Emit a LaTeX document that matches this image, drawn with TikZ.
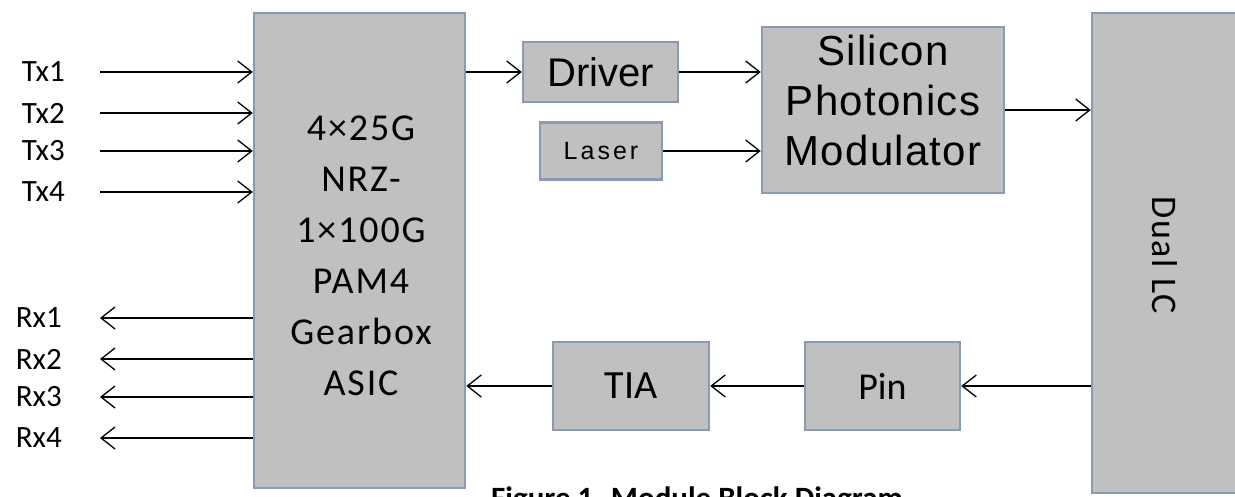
\documentclass[tikz,border=0pt]{standalone}
\usepackage{fontspec}
\setmainfont{Carlito}
\newfontfamily\arialf{Liberation Sans}
\newfontfamily\arialsp[LetterSpace=3]{Liberation Sans}
\newfontfamily\arialwide[LetterSpace=12]{Liberation Sans}
\newfontfamily\calsp[LetterSpace=5]{Carlito}
\newfontfamily\caldual[LetterSpace=5]{Carlito}
\usetikzlibrary{arrows.meta}
\definecolor{boxfill}{RGB}{192,192,192}
\definecolor{boxline}{RGB}{137,154,178}
\begin{document}
\begin{tikzpicture}[x=1pt,y=-1pt,
  blk/.style={draw=boxline, fill=boxfill, line width=2.5pt, inner sep=0pt},
  arr/.style={-{Straight Barb[length=14pt,width=22pt]}, line width=1.3pt},
  lbl/.style={inner sep=0pt, font=\fontsize{31}{33}\selectfont}]
\useasboundingbox (0,0) rectangle (1235,497);
\fill[white] (0,0) rectangle (1235,497);
% blocks
\node[blk, minimum width=211pt, minimum height=475pt] (asic) at (359.5,250.5) {};
\node[align=center, inner sep=0pt, font=\calsp\fontsize{38}{51}\selectfont] (asictxt) at (361,256)
  {4×25G\\NRZ-\\1×100G\\PAM4\\Gearbox\\ASIC};
\node[blk, minimum width=155pt, minimum height=60pt, font=\arialf\fontsize{40}{44}\selectfont] (drv) at (600.5,72) {Driver};
\node[blk, minimum width=122pt, minimum height=57pt, font=\arialwide\fontsize{25}{27}\selectfont] (las) at (601,151) {Laser};
\node[blk, minimum width=242pt, minimum height=166pt] (spm) at (883,110) {};
\node[align=center, inner sep=0pt, font=\arialsp\fontsize{42}{50}\selectfont] (spmtxt) at (883,100)
  {Silicon\\Photonics\\Modulator};
\node[blk, minimum width=148pt, minimum height=480pt] (dual) at (1166,253) {};
\node[rotate=-90, inner sep=0pt, font=\caldual\fontsize{36}{38}\selectfont] (dualtxt) at (1165,255) {Dual LC};
\node[blk, minimum width=156pt, minimum height=88pt, font=\fontsize{40}{44}\selectfont] (tia) at (631,386) {TIA};
\node[blk, minimum width=155pt, minimum height=88pt, font=\fontsize{38}{42}\selectfont] (pin) at (882.5,386) {Pin};
% Tx / Rx
\foreach \i/\y in {1/72,2/113,3/151,4/192}{
  \node[lbl, anchor=east] (tx\i) at (65,\y) {Tx\i};
  \coordinate (txs\i) at (100,\y);
  \draw[arr] (txs\i) -- (txs\i -| asic.west);
}
\foreach \i/\y in {1/318,2/359,3/397,4/438}{
  \node[lbl, anchor=east] (rx\i) at (62,\y) {Rx\i};
  \coordinate (rxe\i) at (100,\y);
  \draw[arr] (rxe\i -| asic.west) -- (rxe\i);
}
% connectors
\draw[arr] (asic.east |- drv.west) -- (drv.west);
\draw[arr] (drv.east) -- (drv.east -| spm.west);
\draw[arr] (las.east) -- (las.east -| spm.west);
\draw[arr] (spm.east) -- (spm.east -| dual.west);
\draw[arr] (dual.west |- pin.east) -- (pin.east);
\draw[arr] (pin.west) -- (tia.east);
\draw[arr] (tia.west) -- (tia.west -| asic.east);
% caption
\node[font=\bfseries\fontsize{31}{34}\selectfont, anchor=base west, inner sep=0pt] (cap) at (491,508) {Figure 1. Module Block Diagram};
\end{tikzpicture}
\end{document}
